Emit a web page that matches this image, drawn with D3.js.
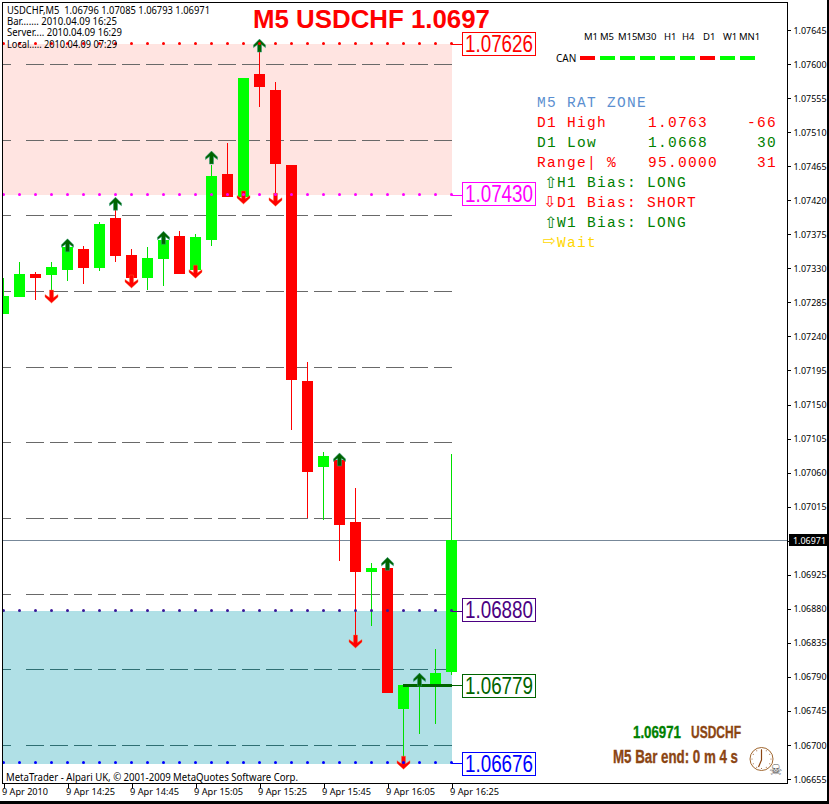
<!DOCTYPE html>
<html><head><meta charset="utf-8">
<script src="https://cdn.jsdelivr.net/npm/d3@7"></script>
<style>html,body{margin:0;padding:0;background:#fff;overflow:hidden}svg{display:block}text{white-space:pre}</style>
</head><body><svg id="c" width="829" height="804"></svg>
<script>
// ---------- data ----------
const barIndex = d3.range(29);
const opens  = [1.07270,1.07292,1.07323,1.07321,1.07328,1.07356,1.07330,1.07397,1.07348,1.07317,1.07342,1.07373,1.07328,1.07367,1.07455,1.07424,1.07587,1.07566,1.07467,1.07181,1.07067,1.07077,1.06995,1.06929,1.06934,1.06748,1.06778,1.06779,1.06796];
const highs  = [1.07317,1.07338,1.07325,1.07338,1.07367,1.07360,1.07391,1.07420,1.07356,1.07358,1.07378,1.07379,1.07375,1.07467,1.07496,1.07582,1.07626,1.07576,1.07467,1.07206,1.07087,1.07079,1.07040,1.06941,1.06935,1.06779,1.06795,1.06827,1.07085];
const lows   = [1.07270,1.07292,1.07288,1.07301,1.07313,1.07309,1.07326,1.07338,1.07308,1.07301,1.07307,1.07323,1.07325,1.07360,1.07424,1.07424,1.07543,1.07427,1.07116,1.07000,1.06997,1.06943,1.06839,1.06857,1.06769,1.06683,1.06714,1.06728,1.06793];
const closes = [1.07293,1.07323,1.07317,1.07332,1.07358,1.07330,1.07389,1.07346,1.07317,1.07344,1.07367,1.07323,1.07371,1.07452,1.07424,1.07582,1.07570,1.07468,1.07182,1.07061,1.07082,1.06991,1.06929,1.06934,1.06769,1.06779,1.06779,1.06795,1.06971];

const upArrowBars = [4,7,10,13,16,21,24,26];
const upArrowTips = [1.07369,1.07424,1.07379,1.07485,1.07633,1.07086,1.06948,1.06795];
const downArrowBars = [3,8,12,15,17,22,25];
const downArrowTips = [1.07284,1.07304,1.07317,1.07415,1.07412,1.06828,1.06668];

const gridLevels = [1.0760,1.0750,1.0740,1.0730,1.0720,1.0710,1.0700,1.0690,1.0680,1.0670];
const priceTicks = [1.07645,1.07600,1.07555,1.07510,1.07465,1.07420,1.07375,1.07330,1.07285,1.07240,1.07195,1.07150,1.07105,1.07060,1.07015,1.06970,1.06925,1.06880,1.06835,1.06790,1.06745,1.06700,1.06655];
const timeTickBars = [0,4,8,12,16,20,24,28];
const timeTickLabels = ["9 Apr 2010","9 Apr 14:25","9 Apr 14:45","9 Apr 15:05","9 Apr 15:25","9 Apr 15:45","9 Apr 16:05","9 Apr 16:25"];

const levelPrices = [1.07626,1.07427,1.06877,1.06779,1.06676];
const levelLabels = ["1.07626","1.07430","1.06880","1.06779","1.06676"];
const levelColors = ["#ff0000","#ff00ff","#4b0082","#006400","#0000ff"];
const currentPrice = 1.06971;

const tfNames = ["M1","M5","M15","M30","H1","H4","D1","W1","MN1"];
const tfStates = [0,1,1,1,1,1,0,1,1];

// ---------- scales ----------
const svg = d3.select("#c");
const frame = {l:2,t:2,r:787,b:783};
const y = d3.scaleLinear().domain([1.06655,1.07645]).range([779,30]);
const x = d3.scaleLinear().domain([0,28]).range([3,451]);
const px = v => Math.round(y(v));
const SANS = "'Noto Sans','Liberation Sans',sans-serif";
const ARIAL = "'Liberation Sans',Arial,sans-serif";
const NARROW = "'Liberation Sans Narrow','Liberation Sans',Arial,sans-serif";
const MONO = "'Liberation Mono','Courier New',monospace";

svg.append("rect").attr("width",829).attr("height",804).attr("fill","#fff");

const plot = svg.append("g");
// zones
plot.append("rect").attr("x",x(0)).attr("width",x(28)-x(0)+1).attr("y",px(levelPrices[0])).attr("height",px(levelPrices[1])-px(levelPrices[0])).attr("fill","#ffe4e1");
plot.append("rect").attr("x",x(0)).attr("width",x(28)-x(0)+1).attr("y",px(levelPrices[2])).attr("height",px(levelPrices[4])-px(levelPrices[2])+1).attr("fill","#b0e0e6");

// dashed round levels
gridLevels.forEach(l=>{
  const yy=px(l)+.5, sh=l<1.0688?"#2f6f73":"#696969";
  plot.append("line").attr("x1",3).attr("x2",11).attr("y1",yy).attr("y2",yy).attr("stroke",sh);
  plot.append("line").attr("x1",26).attr("x2",452).attr("y1",yy).attr("y2",yy).attr("stroke",sh).attr("stroke-dasharray","18 6");
});

// current price line
plot.append("rect").attr("x",3).attr("width",784).attr("y",px(currentPrice)).attr("height",1).attr("fill","#778899");

// candles
const candles = plot.selectAll("g.candle").data(barIndex).join("g").attr("class","candle");
candles.append("rect").attr("x",i=>x(i)).attr("width",1)
  .attr("y",i=>px(highs[i])).attr("height",i=>Math.max(1,px(lows[i])-px(highs[i])))
  .attr("fill",i=>closes[i]>=opens[i]?"#00e000":"#ff0000");
candles.append("rect").attr("x",i=>Math.max(3,x(i)-5)).attr("width",i=>x(i)+6-Math.max(3,x(i)-5))
  .attr("y",i=>px(Math.max(opens[i],closes[i]))).attr("height",i=>Math.max(1,px(Math.min(opens[i],closes[i]))-px(Math.max(opens[i],closes[i]))))
  .attr("fill",i=>closes[i]>=opens[i]?"#00ff00":"#ff0000");

// level dots and thick line
plot.append("rect").attr("x",x(25)).attr("width",x(28)-x(25)+1).attr("y",px(levelPrices[3])-1).attr("height",3).attr("fill","#006400");

// arrows
const upPath = "M0 0L6 6L6 8.5L2 5.5L2 13L-2 13L-2 5.5L-6 8.5L-6 6Z";
plot.selectAll(null).data(upArrowBars).join("path")
  .attr("transform",(b,j)=>`translate(${x(b)+.5},${y(upArrowTips[j])})`)
  .attr("d",upPath).attr("fill","#006400").attr("stroke","#2f9f80").attr("stroke-width",.5);
const downPath = "M0 0L-6.5 -6L-6.5 -8.5L-2 -5.5L-2 -13L2 -13L2 -5.5L6.5 -8.5L6.5 -6Z";
plot.selectAll(null).data(downArrowBars).join("path")
  .attr("transform",(b,j)=>`translate(${x(b)+.5},${y(downArrowTips[j])})`)
  .attr("d",downPath).attr("fill","#ff0000").attr("stroke","#ff6a30").attr("stroke-width",.4);

// dots drawn above candles and arrows
[0,1,2,4].forEach(k=>{
  plot.selectAll(null).data(barIndex).join("circle")
    .attr("cx",i=>x(i)+.5).attr("cy",px(levelPrices[k])-.5).attr("r",1.5).attr("fill",k==2?"#3a1a9a":levelColors[k]);
});

// level labels
levelLabels.forEach((t,k)=>{
  const yy=px(levelPrices[k]);
  const cy = yy + [0,-1,-1,1,1][k];
  plot.append("line").attr("x1",452).attr("x2",463).attr("y1",yy+.5).attr("y2",yy+.5).attr("stroke",levelColors[k]);
  plot.append("rect").attr("x",462.5).attr("y",cy-11.5).attr("width",73).attr("height",23).attr("fill","#fff").attr("stroke",levelColors[k]);
  plot.append("text").attr("x",499).attr("y",cy+8).attr("text-anchor","middle").attr("font-family",ARIAL).attr("font-size",23).attr("textLength",68).attr("lengthAdjust","spacingAndGlyphs").attr("fill",levelColors[k]).text(t);
});

// frame
svg.append("rect").attr("x",frame.l).attr("y",frame.t).attr("width",frame.r-frame.l).attr("height",frame.b-frame.t).attr("fill","none").attr("stroke","#000").attr("stroke-width",1).attr("shape-rendering","crispEdges");
svg.append("rect").attr("x",0).attr("y",801).attr("width",829).attr("height",3).attr("fill","#000");
svg.append("rect").attr("x",827).attr("y",0).attr("width",2).attr("height",804).attr("fill","#000");

// axes
const yAxis = d3.axisRight(y).tickValues(priceTicks).tickSize(3).tickPadding(3).tickFormat(d3.format(".5f"));
const yg = svg.append("g").attr("transform",`translate(${frame.r+.5},0)`).call(yAxis);
const xAxis = d3.axisBottom(x).tickValues(timeTickBars).tickSize(4).tickPadding(1).tickFormat((d,i)=>timeTickLabels[i]);
const xg = svg.append("g").attr("transform",`translate(.5,${frame.b+.5})`).call(xAxis);
[yg,xg].forEach(g=>{
  g.select(".domain").remove();
  g.selectAll("line").attr("stroke","#000").attr("shape-rendering","crispEdges");
  g.selectAll("text").attr("font-family",SANS).attr("font-size",9.5).attr("fill","#000");
});
xg.selectAll("text").attr("text-anchor","start").attr("dx",-2).attr("dy","0.68em").attr("textLength",(d,i)=>i?49:46).attr("lengthAdjust","spacingAndGlyphs");
yg.selectAll("text").attr("textLength",33).attr("lengthAdjust","spacingAndGlyphs");

// current price tag
svg.append("rect").attr("x",789).attr("y",px(currentPrice)-6).attr("width",38).attr("height",12).attr("fill","#000");
svg.append("text").attr("x",793).attr("y",px(currentPrice)+4).attr("font-family",SANS).attr("font-size",9.5).attr("textLength",33).attr("lengthAdjust","spacingAndGlyphs").attr("fill","#fff").text(d3.format(".5f")(currentPrice));

// title
svg.append("text").attr("x",253).attr("y",28).attr("font-family",ARIAL).attr("font-weight","bold").attr("font-size",26).attr("textLength",237).attr("lengthAdjust","spacingAndGlyphs").attr("fill","#ff0000").text("M5 USDCHF 1.0697");

// header lines
const header = [["USDCHF,M5  1.06796 1.07085 1.06793 1.06971",14,203],["Bar....... 2010.04.09 16:25",25,110],["Server.... 2010.04.09 16:29",36,115],["Local..... 2010.04.09 07:29",48,110]];
header.forEach(h=>svg.append("text").attr("x",7).attr("y",h[1]).attr("font-family",SANS).attr("font-size",10).attr("textLength",h[2]).attr("lengthAdjust","spacingAndGlyphs").attr("fill","#000").text(h[0]));
svg.append("text").attr("x",6).attr("y",781).attr("font-family",SANS).attr("font-size",10).attr("textLength",292).attr("lengthAdjust","spacingAndGlyphs").attr("fill","#000").text("MetaTrader - Alpari UK, © 2001-2009 MetaQuotes Software Corp.");

// timeframe panel
const tfX = d3.scalePoint().domain(tfNames).range([588,748]);
const tfLabelX = [584,600,618,637,664,682,703,723,739];
svg.selectAll(null).data(tfNames).join("text").attr("x",(d,i)=>tfLabelX[i]).attr("y",40)
  .attr("font-family",SANS).attr("font-size",9.5).attr("fill","#000").text(d=>d);
svg.append("text").attr("x",556).attr("y",62).attr("font-family",SANS).attr("font-size",10).attr("fill","#000").text("CAN");
svg.selectAll(null).data(tfNames).join("rect").attr("x",d=>Math.round(tfX(d))-8).attr("y",56).attr("width",15).attr("height",4)
  .attr("fill",(d,i)=>tfStates[i]?"#00ff00":"#ff0000");

// text panel
const mono = (t,xx,yy,c)=>svg.append("text").attr("x",xx).attr("y",yy).attr("font-family",MONO).attr("font-size",14.5).attr("letter-spacing",1.3).attr("fill",c).text(t);
mono("M5 RAT ZONE",537,107,"#5b8fd0");
mono("D1 High",537,127,"#ff0000"); mono("1.0763",648,127,"#ff0000"); mono("-66",747,127,"#ff0000");
mono("D1 Low",537,147,"#008000"); mono("1.0668",648,147,"#008000"); mono("30",757,147,"#008000");
mono("Range| %",537,167,"#ff0000"); mono("95.0000",648,167,"#ff0000"); mono("31",757,167,"#ff0000");
mono("H1 Bias:",557,187,"#008000"); mono("LONG",647,187,"#008000");
mono("D1 Bias:",557,207,"#ff0000"); mono("SHORT",647,207,"#ff0000");
mono("W1 Bias:",557,227,"#008000"); mono("LONG",647,227,"#008000");
mono("Wait",557,247,"#ffd700");
const glyph=(t,xx,yy,c)=>svg.append("text").attr("x",xx).attr("y",yy).attr("font-family","'DejaVu Sans'").attr("font-size",15.5).attr("fill",c).text(t);
glyph("⇧",544,188,"#008000"); glyph("⇩",543,207,"#ff0000"); glyph("⇧",544,228,"#008000"); glyph("⇨",543,246,"#ffd700");

// bottom right block
const heavy=(t,xx,yy,w,fs,c)=>svg.append("text").attr("x",xx).attr("y",yy).attr("font-family",NARROW).attr("font-weight","bold").attr("font-size",fs).attr("textLength",w).attr("lengthAdjust","spacingAndGlyphs").attr("fill",c).attr("stroke",c).attr("stroke-width",.35).text(t);
heavy("1.06971",633,738,48,17,"#008000");
heavy("USDCHF",691,738,50,17,"#8b4513");
heavy("M5 Bar end: 0 m 4 s",613,763,125,18,"#8b4513");

// clock
const clock=svg.append("g").attr("transform","translate(761.5,759)");
clock.append("circle").attr("r",11.5).attr("fill","#fff").attr("stroke","#a0662e").attr("stroke-width",1);
clock.selectAll(null).data(d3.range(12)).join("circle").attr("r",.5).attr("fill","#8b4513")
  .attr("cx",d=>9.5*Math.cos(d*Math.PI/6)).attr("cy",d=>9.5*Math.sin(d*Math.PI/6));
clock.append("path").attr("d","M0 -9L0 1L-3 8").attr("fill","none").attr("stroke","#8b4513").attr("stroke-width",1.2);
svg.append("text").attr("x",769).attr("y",775).attr("font-family","'DejaVu Sans'").attr("font-size",15).attr("fill","#555").text("☠");
</script></body></html>
